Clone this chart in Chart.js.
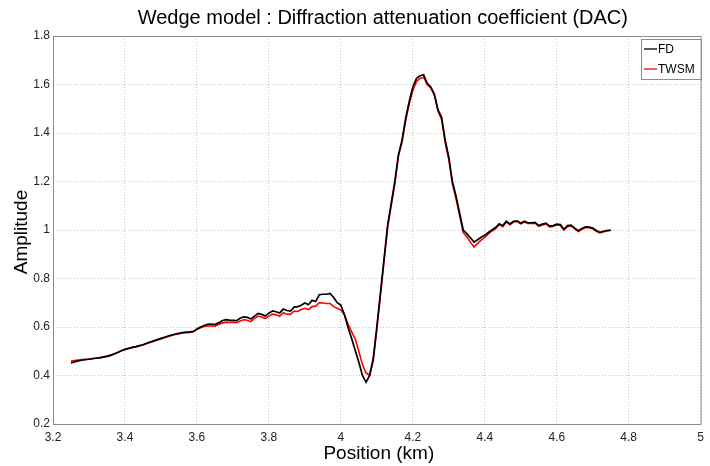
<!DOCTYPE html>
<html>
<head>
<meta charset="utf-8">
<script src="https://cdn.jsdelivr.net/npm/chart.js@4/dist/chart.umd.min.js"></script>
<style>
  html, body { margin: 0; padding: 0; background: #fff; }
  #wrap { width: 710px; height: 466px; }
</style>
</head>
<body>
<div id="wrap"><canvas id="dac"></canvas></div>
<script>
// Sampling of the position axis (km).
var posStart = 3.25;
var posStep = 0.01;

// Finite difference amplitude.
var fd = [
    0.452, 0.456, 0.460, 0.463, 0.465, 0.467, 0.469, 0.471, 0.473, 0.476,
    0.479, 0.483, 0.489, 0.495, 0.502, 0.508, 0.512, 0.516, 0.519, 0.523,
    0.527, 0.533, 0.538, 0.543, 0.548, 0.553, 0.558, 0.563, 0.567, 0.571,
    0.574, 0.577, 0.579, 0.580, 0.582, 0.592, 0.600, 0.606, 0.611, 0.612,
    0.610, 0.617, 0.626, 0.630, 0.628, 0.627, 0.626, 0.636, 0.642, 0.640,
    0.633, 0.645, 0.656, 0.652, 0.645, 0.657, 0.666, 0.663, 0.658, 0.674,
    0.668, 0.666, 0.682, 0.684, 0.690, 0.699, 0.692, 0.710, 0.705, 0.733,
    0.735, 0.735, 0.738, 0.722, 0.700, 0.690, 0.650, 0.598, 0.553, 0.503,
    0.455, 0.400, 0.372, 0.400, 0.470, 0.600, 0.740, 0.880, 1.020, 1.110,
    1.200, 1.310, 1.370, 1.460, 1.530, 1.590, 1.625, 1.636, 1.640, 1.605,
    1.590, 1.560, 1.495, 1.465, 1.370, 1.300, 1.200, 1.140, 1.070, 1.000,
    0.985, 0.968, 0.950, 0.960, 0.970, 0.978, 0.990, 1.000, 1.010, 1.026,
    1.018, 1.036, 1.025, 1.036, 1.038, 1.028, 1.036, 1.030, 1.030, 1.031,
    1.018, 1.024, 1.028, 1.016, 1.018, 1.024, 1.022, 1.003, 1.018, 1.020,
    1.008, 0.997, 1.006, 1.013, 1.012, 1.008, 0.998, 0.990, 0.995, 0.998,
    1.000
];

// TWSM amplitude.
var twsm = [
    0.460, 0.462, 0.464, 0.466, 0.467, 0.468, 0.470, 0.472, 0.474, 0.477,
    0.480, 0.484, 0.490, 0.496, 0.502, 0.507, 0.511, 0.515, 0.518, 0.522,
    0.526, 0.531, 0.536, 0.541, 0.546, 0.551, 0.556, 0.561, 0.565, 0.569,
    0.572, 0.575, 0.577, 0.578, 0.580, 0.590, 0.597, 0.602, 0.604, 0.604,
    0.603, 0.610, 0.616, 0.620, 0.619, 0.619, 0.618, 0.625, 0.630, 0.628,
    0.622, 0.635, 0.645, 0.641, 0.635, 0.645, 0.653, 0.650, 0.644, 0.659,
    0.653, 0.652, 0.666, 0.664, 0.672, 0.677, 0.672, 0.684, 0.686, 0.700,
    0.699, 0.697, 0.697, 0.684, 0.677, 0.670, 0.650, 0.612, 0.580, 0.550,
    0.500, 0.445, 0.410, 0.402, 0.460, 0.590, 0.730, 0.870, 1.010, 1.100,
    1.190, 1.305, 1.362, 1.450, 1.520, 1.575, 1.612, 1.625, 1.630, 1.600,
    1.585, 1.555, 1.490, 1.455, 1.360, 1.290, 1.190, 1.130, 1.060, 0.990,
    0.972, 0.950, 0.930, 0.945, 0.958, 0.970, 0.984, 0.996, 1.006, 1.022,
    1.014, 1.033, 1.022, 1.033, 1.035, 1.025, 1.033, 1.027, 1.027, 1.028,
    1.015, 1.021, 1.025, 1.013, 1.015, 1.021, 1.019, 1.000, 1.015, 1.017,
    1.005, 0.994, 1.003, 1.010, 1.009, 1.005, 0.995, 0.988, 0.993, 0.996,
    0.998
];

var xTicks = [3.2, 3.4, 3.6, 3.8, 4, 4.2, 4.4, 4.6, 4.8, 5];
var yTicks = [0.2, 0.4, 0.6, 0.8, 1, 1.2, 1.4, 1.6, 1.8];
var seriesNames = ["FD", "TWSM"];

function toPoints(values) {
    var pts = [];
    for (var i = 0; i < values.length; ++i)
        pts.push({ x: +(posStart + i * posStep).toFixed(2), y: values[i] });
    return pts;
}

var font = "'Liberation Sans', Arial, sans-serif";
var axisGrey = "#8c8c8c";
var gridGrey = "#c4c4c4";

// Title, axis labels, box and legend, drawn the MATLAB way.
var decorations = {
    id: "decorations",
    afterDraw: function(chart) {
        var ctx = chart.ctx;
        var a = chart.chartArea;
        ctx.save();

        ctx.strokeStyle = axisGrey;
        ctx.lineWidth = 1;
        ctx.setLineDash([]);
        ctx.beginPath();
        ctx.moveTo(a.left, a.top + 0.5);
        ctx.lineTo(a.right + 0.5, a.top + 0.5);
        ctx.lineTo(a.right + 0.5, a.bottom + 0.5);
        ctx.lineTo(a.left, a.bottom + 0.5);
        ctx.moveTo(a.left + 0.5, a.top);
        ctx.lineTo(a.left + 0.5, a.bottom);
        ctx.stroke();

        ctx.fillStyle = "#000";
        ctx.textAlign = "center";
        ctx.textBaseline = "middle";
        ctx.font = "20px " + font;
        ctx.fillText("Wedge model : Diffraction attenuation coefficient (DAC)", (a.left + a.right) / 2 + 6, 18);

        ctx.font = "19px " + font;
        ctx.fillText("Position (km)", (a.left + a.right) / 2 + 2, 454);

        ctx.save();
        ctx.translate(22, 232);
        ctx.rotate(-Math.PI / 2);
        ctx.fillText("Amplitude", 0, 0);
        ctx.restore();

        // legend box
        var bx = 641, by = 39, bw = a.right - bx, bh = 40;
        ctx.fillStyle = "#fff";
        ctx.fillRect(bx, by, bw, bh);
        ctx.strokeStyle = axisGrey;
        ctx.strokeRect(bx + 0.5, by + 0.5, bw, bh);
        ctx.font = "12px " + font;
        ctx.textAlign = "left";
        var rows = [49, 69];
        chart.data.datasets.forEach(function(ds, i) {
            ctx.strokeStyle = ds.borderColor;
            ctx.lineWidth = 1.3;
            ctx.beginPath();
            ctx.moveTo(bx + 3, rows[i]);
            ctx.lineTo(bx + 16, rows[i]);
            ctx.stroke();
            ctx.fillStyle = "#000";
            ctx.fillText(ds.label, bx + 17, rows[i] + 1);
        });
        ctx.restore();
    }
};

new Chart(document.getElementById("dac"), {
    type: "line",
    data: {
        datasets: [{
            label: seriesNames[0],
            data: toPoints(fd),
            borderColor: "#000000",
            borderWidth: 1.7,
            pointRadius: 0,
            tension: 0
        }, {
            label: seriesNames[1],
            data: toPoints(twsm),
            borderColor: "#ff0000",
            borderWidth: 1.6,
            pointRadius: 0,
            tension: 0
        }]
    },
    options: {
        responsive: true,
        maintainAspectRatio: false,
        animation: false,
        layout: { padding: { top: 36, right: 4, left: 0, bottom: 0 } },
        plugins: {
            legend: { display: false },
            title: { display: false },
            tooltip: { enabled: false }
        },
        scales: {
            x: {
                type: "linear",
                min: 3.2,
                max: 5,
                afterBuildTicks: function(s) {
                    s.ticks = xTicks.map(function(v) { return { value: v }; });
                },
                afterFit: function(s) { s.height = 42; },
                grid: { color: gridGrey, drawTicks: false },
                border: { display: false, dash: [1, 2] },
                ticks: {
                    color: "#222",
                    padding: 6,
                    maxRotation: 0,
                    font: { family: font, size: 12 },
                    callback: function(v) { return String(v); }
                }
            },
            y: {
                type: "linear",
                min: 0.2,
                max: 1.8,
                afterBuildTicks: function(s) {
                    s.ticks = yTicks.map(function(v) { return { value: v }; });
                },
                afterFit: function(s) { s.width = 53; },
                grid: { color: gridGrey, drawTicks: false },
                border: { display: false, dash: [1, 2] },
                ticks: {
                    color: "#222",
                    padding: 3,
                    font: { family: font, size: 12 },
                    callback: function(v) { return String(v); }
                }
            }
        }
    },
    plugins: [decorations]
});
</script>
</body>
</html>
